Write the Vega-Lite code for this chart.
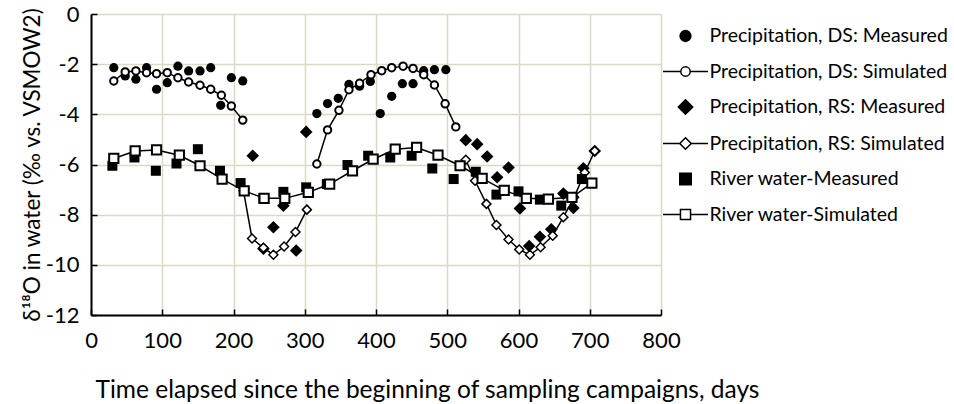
{
  "$schema": "https://vega.github.io/schema/vega-lite/v6.json",
  "width": 570,
  "height": 301,
  "autosize": {"type": "none"},
  "padding": {"left": 91, "top": 14, "right": 293, "bottom": 89},
  "background": "white",
  "config": {
    "view": {"stroke": null},
    "font": "Lato",
    "axis": {
      "grid": true,
      "gridColor": "#dcd8c2",
      "gridWidth": 1.5,
      "domainColor": "black",
      "domainWidth": 2,
      "tickColor": "black",
      "tickWidth": 1.5,
      "tickSize": -6,
      "labelFontSize": 22,
      "labelColor": "black",
      "titleFontSize": 22,
      "titleFontWeight": "normal",
      "titleColor": "black",
      "labelFlush": false,
      "labelOverlap": false
    }
  },
  "datasets": {
    "dsMeas": [
      {"day": 32, "d18O": -2.14}, {"day": 48, "d18O": -2.47}, {"day": 63, "d18O": -2.6}, {"day": 78, "d18O": -2.14},
      {"day": 92, "d18O": -3.0}, {"day": 107, "d18O": -2.74}, {"day": 122, "d18O": -2.08}, {"day": 137, "d18O": -2.27},
      {"day": 153, "d18O": -2.27}, {"day": 168, "d18O": -2.14}, {"day": 182, "d18O": -3.64}, {"day": 197, "d18O": -2.54},
      {"day": 213, "d18O": -2.67},
      {"day": 317, "d18O": -3.97}, {"day": 332, "d18O": -3.57}, {"day": 347, "d18O": -3.36}, {"day": 362, "d18O": -2.81},
      {"day": 377, "d18O": -2.88}, {"day": 392, "d18O": -2.69}, {"day": 406, "d18O": -3.97}, {"day": 422, "d18O": -3.28},
      {"day": 437, "d18O": -2.78}, {"day": 452, "d18O": -2.78}, {"day": 467, "d18O": -2.26}, {"day": 482, "d18O": -2.22},
      {"day": 498, "d18O": -2.22}
    ],
    "dsSim": [
      {"segment": 1, "day": 32, "d18O": -2.67}, {"segment": 1, "day": 48, "d18O": -2.31}, {"segment": 1, "day": 63, "d18O": -2.27},
      {"segment": 1, "day": 78, "d18O": -2.34}, {"segment": 1, "day": 92, "d18O": -2.38}, {"segment": 1, "day": 107, "d18O": -2.34},
      {"segment": 1, "day": 122, "d18O": -2.54}, {"segment": 1, "day": 137, "d18O": -2.71}, {"segment": 1, "day": 153, "d18O": -2.84},
      {"segment": 1, "day": 168, "d18O": -3.0}, {"segment": 1, "day": 183, "d18O": -3.24}, {"segment": 1, "day": 197, "d18O": -3.67},
      {"segment": 1, "day": 213, "d18O": -4.23},
      {"segment": 2, "day": 317, "d18O": -5.98}, {"segment": 2, "day": 332, "d18O": -4.62}, {"segment": 2, "day": 348, "d18O": -3.84},
      {"segment": 2, "day": 362, "d18O": -3.02}, {"segment": 2, "day": 377, "d18O": -2.76}, {"segment": 2, "day": 393, "d18O": -2.42},
      {"segment": 2, "day": 408, "d18O": -2.26}, {"segment": 2, "day": 422, "d18O": -2.14}, {"segment": 2, "day": 438, "d18O": -2.08},
      {"segment": 2, "day": 452, "d18O": -2.17}, {"segment": 2, "day": 467, "d18O": -2.42}, {"segment": 2, "day": 482, "d18O": -2.83},
      {"segment": 2, "day": 497, "d18O": -3.58}, {"segment": 2, "day": 512, "d18O": -4.5}
    ],
    "rsMeas": [
      {"day": 227, "d18O": -5.65}, {"day": 242, "d18O": -9.36}, {"day": 256, "d18O": -8.5}, {"day": 270, "d18O": -7.64},
      {"day": 288, "d18O": -9.43}, {"day": 302, "d18O": -4.7},
      {"day": 526, "d18O": -5.03}, {"day": 542, "d18O": -5.19}, {"day": 556, "d18O": -5.68}, {"day": 570, "d18O": -6.51},
      {"day": 586, "d18O": -6.12}, {"day": 602, "d18O": -7.75}, {"day": 615, "d18O": -9.25}, {"day": 630, "d18O": -8.88},
      {"day": 646, "d18O": -8.58}, {"day": 663, "d18O": -7.16}, {"day": 677, "d18O": -7.73}, {"day": 691, "d18O": -6.15},
      {"day": 707, "d18O": -5.46}
    ],
    "rsSim": [
      {"segment": 1, "day": 214, "d18O": -7.05}, {"segment": 1, "day": 226, "d18O": -8.95}, {"segment": 1, "day": 242, "d18O": -9.32},
      {"segment": 1, "day": 256, "d18O": -9.6}, {"segment": 1, "day": 271, "d18O": -9.27}, {"segment": 1, "day": 287, "d18O": -8.69},
      {"segment": 1, "day": 303, "d18O": -7.8},
      {"segment": 2, "day": 526, "d18O": -5.81}, {"segment": 2, "day": 539, "d18O": -6.65}, {"segment": 2, "day": 555, "d18O": -7.57},
      {"segment": 2, "day": 569, "d18O": -8.41}, {"segment": 2, "day": 586, "d18O": -8.99}, {"segment": 2, "day": 601, "d18O": -9.39},
      {"segment": 2, "day": 616, "d18O": -9.6}, {"segment": 2, "day": 631, "d18O": -9.3}, {"segment": 2, "day": 648, "d18O": -8.84},
      {"segment": 2, "day": 663, "d18O": -8.1}, {"segment": 2, "day": 678, "d18O": -7.31}, {"segment": 2, "day": 693, "d18O": -6.32},
      {"segment": 2, "day": 707, "d18O": -5.46}
    ],
    "rivMeas": [
      {"day": 30, "d18O": -6.05}, {"day": 61, "d18O": -5.72}, {"day": 91, "d18O": -6.25}, {"day": 120, "d18O": -5.96},
      {"day": 150, "d18O": -5.39}, {"day": 181, "d18O": -6.25}, {"day": 210, "d18O": -6.74}, {"day": 242, "d18O": -7.35},
      {"day": 270, "d18O": -7.09}, {"day": 302, "d18O": -6.91}, {"day": 331, "d18O": -6.78}, {"day": 360, "d18O": -6.02},
      {"day": 389, "d18O": -5.65}, {"day": 420, "d18O": -5.72}, {"day": 450, "d18O": -5.65}, {"day": 479, "d18O": -6.16},
      {"day": 509, "d18O": -6.58}, {"day": 540, "d18O": -6.29}, {"day": 569, "d18O": -7.2}, {"day": 600, "d18O": -7.07},
      {"day": 630, "d18O": -7.4}, {"day": 660, "d18O": -7.64}, {"day": 689, "d18O": -6.58}
    ],
    "rivSim": [
      {"segment": 1, "day": 32, "d18O": -5.76}, {"segment": 1, "day": 62, "d18O": -5.46}, {"segment": 1, "day": 92, "d18O": -5.42},
      {"segment": 1, "day": 124, "d18O": -5.63}, {"segment": 1, "day": 153, "d18O": -6.05}, {"segment": 1, "day": 184, "d18O": -6.58},
      {"segment": 1, "day": 215, "d18O": -7.05}, {"segment": 1, "day": 243, "d18O": -7.35}, {"segment": 1, "day": 272, "d18O": -7.35},
      {"segment": 1, "day": 305, "d18O": -7.11}, {"segment": 1, "day": 335, "d18O": -6.78}, {"segment": 1, "day": 367, "d18O": -6.25},
      {"segment": 1, "day": 396, "d18O": -5.79}, {"segment": 1, "day": 427, "d18O": -5.39}, {"segment": 1, "day": 457, "d18O": -5.32},
      {"segment": 1, "day": 487, "d18O": -5.63}, {"segment": 1, "day": 518, "d18O": -6.05}, {"segment": 1, "day": 549, "d18O": -6.55},
      {"segment": 1, "day": 580, "d18O": -7.03}, {"segment": 1, "day": 611, "d18O": -7.35}, {"segment": 1, "day": 642, "d18O": -7.38},
      {"segment": 1, "day": 675, "d18O": -7.31}, {"segment": 1, "day": 703, "d18O": -6.74}
    ],
    "legendRows": [
      {"series": "Precipitation, DS: Measured"}
    ]
  },
  "layer": [
    {
      "data": {"name": "dsMeas"},
      "mark": {"type": "point", "shape": "circle", "filled": true, "fill": "black", "strokeWidth": 0, "size": 85, "opacity": 1},
      "encoding": {
        "x": {
          "field": "day", "type": "quantitative",
          "scale": {"domain": [0, 800], "nice": false, "zero": false},
          "axis": {
            "title": "Time elapsed since the beginning of sampling campaigns, days",
            "values": [0, 100, 200, 300, 400, 500, 600, 700, 800],
            "labelPadding": 21,
            "titleFontSize": 24.5,
            "titleX": 336, "titleY": 75, "titleAlign": "center", "titleBaseline": "middle"
          }
        },
        "y": {
          "field": "d18O", "type": "quantitative",
          "scale": {"domain": [-12, 0], "nice": false, "zero": false},
          "axis": {
            "title": "δ¹⁸O in water (‰ vs. VSMOW2)",
            "values": [-12, -10, -8, -6, -4, -2, 0],
            "labelExpr": "'' + datum.value",
            "labelPadding": 18,
            "titleFontSize": 22.5,
            "titleX": -59, "titleY": 150.5, "titleAlign": "center", "titleBaseline": "middle", "titleAngle": -90
          }
        }
      }
    },
    {
      "data": {"name": "dsSim"},
      "mark": {"type": "line", "color": "black", "strokeWidth": 1.5},
      "encoding": {
        "x": {"field": "day", "type": "quantitative"},
        "y": {"field": "d18O", "type": "quantitative"},
        "detail": {"field": "segment", "type": "nominal"}
      }
    },
    {
      "data": {"name": "dsSim"},
      "mark": {"type": "point", "shape": "circle", "filled": true, "fill": "white", "stroke": "black", "strokeWidth": 2, "size": 55, "opacity": 1},
      "encoding": {
        "x": {"field": "day", "type": "quantitative"},
        "y": {"field": "d18O", "type": "quantitative"}
      }
    },
    {
      "data": {"name": "rsMeas"},
      "mark": {"type": "point", "shape": "diamond", "filled": true, "fill": "black", "strokeWidth": 0, "size": 160, "opacity": 1},
      "encoding": {
        "x": {"field": "day", "type": "quantitative"},
        "y": {"field": "d18O", "type": "quantitative"}
      }
    },
    {
      "data": {"name": "rsSim"},
      "mark": {"type": "line", "color": "black", "strokeWidth": 1.5},
      "encoding": {
        "x": {"field": "day", "type": "quantitative"},
        "y": {"field": "d18O", "type": "quantitative"},
        "detail": {"field": "segment", "type": "nominal"}
      }
    },
    {
      "data": {"name": "rsSim"},
      "mark": {"type": "point", "shape": "diamond", "filled": true, "fill": "white", "stroke": "black", "strokeWidth": 1.5, "size": 80, "opacity": 1},
      "encoding": {
        "x": {"field": "day", "type": "quantitative"},
        "y": {"field": "d18O", "type": "quantitative"}
      }
    },
    {
      "data": {"name": "rivMeas"},
      "mark": {"type": "point", "shape": "square", "filled": true, "fill": "black", "strokeWidth": 0, "size": 100, "opacity": 1},
      "encoding": {
        "x": {"field": "day", "type": "quantitative"},
        "y": {"field": "d18O", "type": "quantitative"}
      }
    },
    {
      "data": {"name": "rivSim"},
      "mark": {"type": "line", "color": "black", "strokeWidth": 1.5},
      "encoding": {
        "x": {"field": "day", "type": "quantitative"},
        "y": {"field": "d18O", "type": "quantitative"},
        "detail": {"field": "segment", "type": "nominal"}
      }
    },
    {
      "data": {"name": "rivSim"},
      "mark": {"type": "point", "shape": "square", "filled": true, "fill": "white", "stroke": "black", "strokeWidth": 2, "size": 85, "opacity": 1},
      "encoding": {
        "x": {"field": "day", "type": "quantitative"},
        "y": {"field": "d18O", "type": "quantitative"}
      }
    },
    {
      "data": {"name": "legendRows"},
      "transform": [{"filter": "false"}],
      "mark": {"type": "point", "filled": true, "stroke": "black", "opacity": 1},
      "encoding": {
        "shape": {
          "field": "series", "type": "nominal",
          "scale": {
            "domain": ["Precipitation, DS: Measured", "Precipitation, DS: Simulated", "Precipitation, RS: Measured", "Precipitation, RS: Simulated", "River water-Measured", "River water-Simulated"],
            "range": [
              "M0.3,0A0.3,0.3 0 1,1 -0.3,0A0.3,0.3 0 1,1 0.3,0Z",
              "M-1.25,0L-0.26,0M0.26,0L1.25,0M0.26,0A0.26,0.26 0 1,1 -0.26,0A0.26,0.26 0 1,1 0.26,0Z",
              "M-0.4,0L0,-0.4L0.4,0L0,0.4Z",
              "M-1.25,0L-0.32,0M0.32,0L1.25,0M-0.32,0L0,-0.32L0.32,0L0,0.32Z",
              "M-0.32,-0.32L0.32,-0.32L0.32,0.32L-0.32,0.32Z",
              "M-1.25,0L-0.28,0M0.28,0L1.25,0M-0.28,-0.28L0.28,-0.28L0.28,0.28L-0.28,0.28Z"
            ]
          },
          "legend": {
            "orient": "none", "legendX": 575.5, "legendY": 3, "title": null,
            "symbolSize": 1296, "rowPadding": 6.5, "labelOffset": 5,
            "labelFontSize": 19.5, "labelColor": "black", "labelLimit": 400,
            "encode": {"symbols": {"update": {"stroke": {"value": "black"}, "strokeWidth": {"value": 2}, "opacity": {"value": 1}}}}
          }
        },
        "fill": {
          "field": "series", "type": "nominal",
          "scale": {
            "domain": ["Precipitation, DS: Measured", "Precipitation, DS: Simulated", "Precipitation, RS: Measured", "Precipitation, RS: Simulated", "River water-Measured", "River water-Simulated"],
            "range": ["black", "white", "black", "white", "black", "white"]
          },
          "legend": {
            "orient": "none", "legendX": 575.5, "legendY": 3, "title": null,
            "symbolSize": 1296, "rowPadding": 6.5, "labelOffset": 5,
            "labelFontSize": 19.5, "labelColor": "black", "labelLimit": 400,
            "encode": {"symbols": {"update": {"stroke": {"value": "black"}, "strokeWidth": {"value": 2}, "opacity": {"value": 1}}}}
          }
        }
      }
    }
  ]
}
